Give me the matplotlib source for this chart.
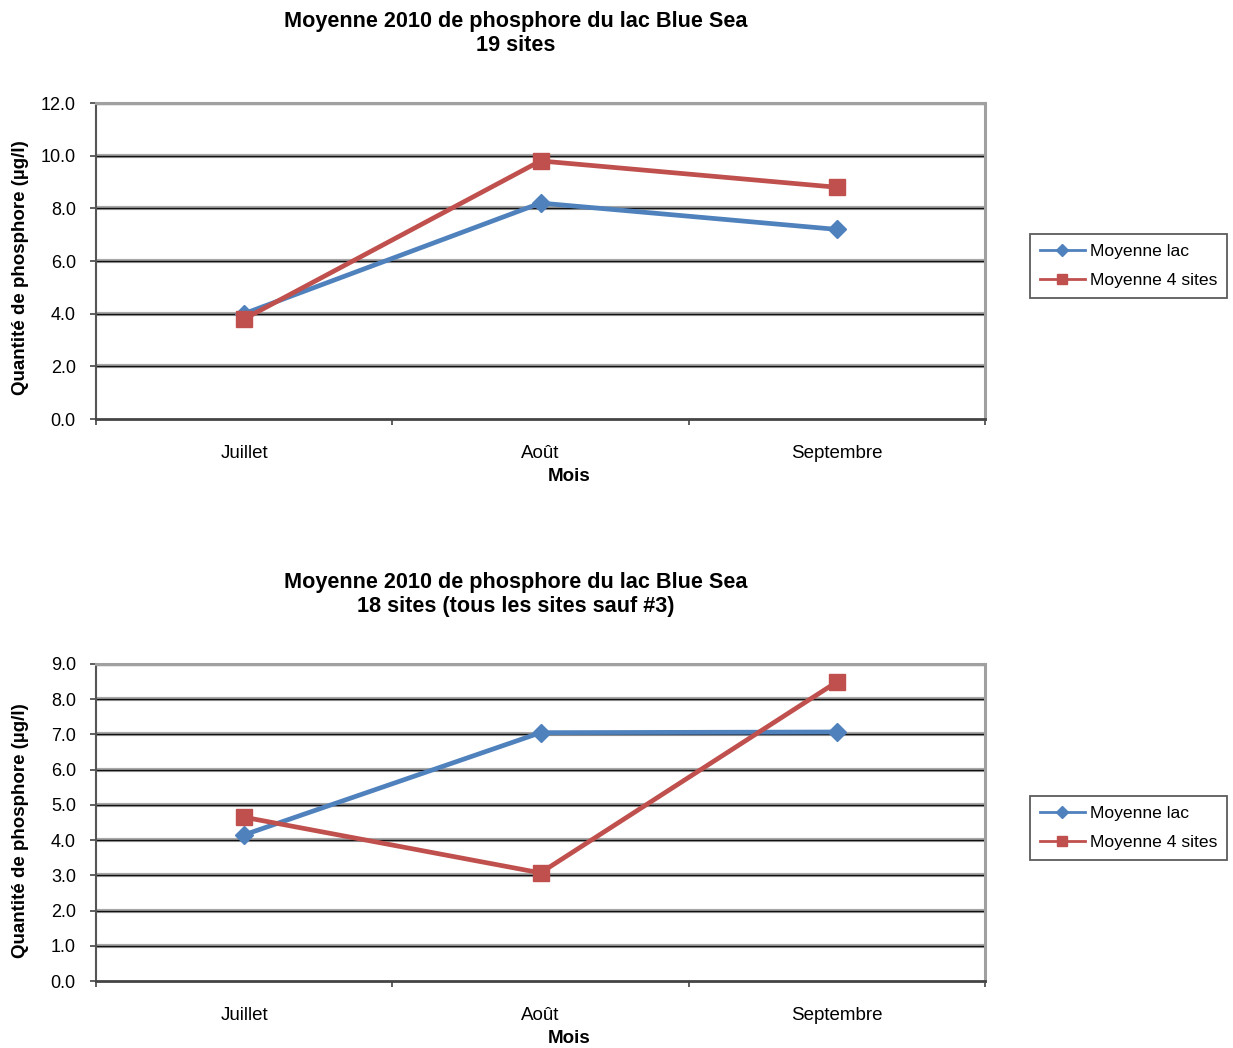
import matplotlib
matplotlib.use("Agg")
import matplotlib.pyplot as plt
from matplotlib.lines import Line2D

plt.rcParams['font.family'] = ['Liberation Sans', 'DejaVu Sans']

months = ["Juillet", "Août", "Septembre"]

# Chart 1: all 19 sites
lac_19 = [4.0, 8.2, 7.2]
quatre_19 = [3.8, 9.8, 8.8]
yticks_19 = [0.0, 2.0, 4.0, 6.0, 8.0, 10.0, 12.0]

# Chart 2: 18 sites (site #3 excluded)
lac_18 = [4.15, 7.05, 7.07]
quatre_18 = [4.65, 3.07, 8.49]
yticks_18 = [0.0, 1.0, 2.0, 3.0, 4.0, 5.0, 6.0, 7.0, 8.0, 9.0]

titles = ["Moyenne 2010 de phosphore du lac Blue Sea\n19 sites",
          "Moyenne 2010 de phosphore du lac Blue Sea\n18 sites (tous les sites sauf #3)"]
series_names = ["Moyenne lac", "Moyenne 4 sites"]

BLUE = "#4F81BD"
RED = "#C0504D"

W, H = 1233, 1048
fig = plt.figure(figsize=(W / 100, H / 100), dpi=100)


def px_axes(x0, y0, x1, y1):
    return fig.add_axes([x0 / W, 1 - y1 / H, (x1 - x0) / W, (y1 - y0) / H])


def draw_chart(ax, lac, quatre, yticks, title, title_y, legend_y, ylab_pos):
    x = list(range(len(months)))
    ax.set_xlim(-0.5, len(months) - 0.5)
    ax.set_ylim(yticks[0], yticks[-1])

    for yt in yticks[1:-1]:
        ax.axhline(yt, color="#a8a8a8", lw=3.0, zorder=1)
        ax.axhline(yt, color="#111111", lw=1.0, zorder=1.5)
    ax.axhline(yticks[-1], color="#a0a0a0", lw=2.5, zorder=1)

    ax.plot(x, lac, color=BLUE, lw=3.4, marker="D", ms=9, zorder=3,
            label=series_names[0])
    ax.plot(x, quatre, color=RED, lw=3.4, marker="s", ms=12, zorder=3,
            label=series_names[1])

    ax.set_yticks(yticks)
    ax.set_yticklabels([f"{v:.1f}" for v in yticks], fontsize=13)
    ax.set_xticks(x)
    ax.set_xticklabels(months, fontsize=13.5)
    ax.set_xticks([i - 0.5 for i in range(len(months) + 1)], minor=True)
    ax.tick_params(axis="x", which="major", length=0, pad=19)
    ax.tick_params(axis="x", which="minor", length=4.5, width=1.2,
                   color="#444444", direction="out")
    ax.tick_params(axis="y", length=4.5, width=1.2, color="#444444",
                   direction="out", pad=10)

    for side in ("top", "right"):
        ax.spines[side].set_color("#a0a0a0")
        ax.spines[side].set_linewidth(2.2)
    ax.spines["left"].set_color("#555555")
    ax.spines["left"].set_linewidth(1.5)
    ax.spines["bottom"].set_color("#444444")
    ax.spines["bottom"].set_linewidth(2.0)
    ax.spines["bottom"].set_zorder(4)

    ax.set_xlabel("Mois", fontsize=13.5, fontweight="bold")
    ax.xaxis.set_label_coords((569 - 96) / (985 - 96), -0.155)
    ax.set_ylabel("Quantité de phosphore (µg/l)", fontsize=13.5,
                  fontweight="bold")
    ax.yaxis.set_label_coords(-(96 - 29) / (985 - 96), ylab_pos)

    fig.text(516 / W, 1 - title_y / H, title, ha="center", va="top",
             fontsize=15.6, fontweight="bold", linespacing=1.2)

    handles = [Line2D([], [], color=BLUE, lw=2, marker="D", ms=6),
               Line2D([], [], color=RED, lw=2, marker="s", ms=7)]
    leg = fig.legend(handles, series_names, loc="upper left",
                     bbox_to_anchor=(1030 / W, 1 - legend_y / H),
                     fontsize=12.6, frameon=True, fancybox=False,
                     handlelength=2.6, handletextpad=0.3, borderpad=0.55,
                     labelspacing=0.8, borderaxespad=0)
    leg.get_frame().set_edgecolor("#333333")
    leg.get_frame().set_linewidth(1.3)


ax1 = px_axes(96, 103, 985, 419)
draw_chart(ax1, lac_19, quatre_19, yticks_19, titles[0], 11, 234, 0.478)

ax2 = px_axes(96, 664, 985, 981)
draw_chart(ax2, lac_18, quatre_18, yticks_18, titles[1], 572, 796, 0.473)

fig.savefig("out.png", dpi=100)
